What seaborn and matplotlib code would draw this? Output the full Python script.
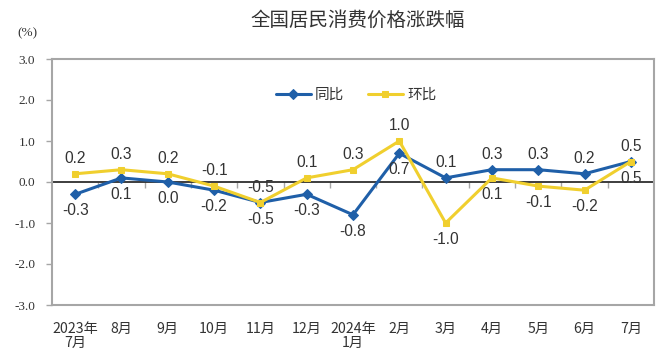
import matplotlib
matplotlib.use("Agg")
import matplotlib.pyplot as plt
import seaborn as sns
import numpy as np
import pandas as pd

categories = ["2023年\n7月", "8月", "9月", "10月", "11月", "12月", "2024年\n1月",
              "2月", "3月", "4月", "5月", "6月", "7月"]
yoy = [-0.3, 0.1, 0.0, -0.2, -0.5, -0.3, -0.8, 0.7, 0.1, 0.3, 0.3, 0.2, 0.5]   # 同比
mom = [0.2, 0.3, 0.2, -0.1, -0.5, 0.1, 0.3, 1.0, -1.0, 0.1, -0.1, -0.2, 0.5]   # 环比
yoy_label_above = [False] * 8 + [True] * 5
mom_label_above = [True] * 8 + [False] * 5
yticks = [3.0, 2.0, 1.0, 0.0, -1.0, -2.0, -3.0]

sns.set_theme(style="white")
plt.rcParams['font.family'] = ['Noto Sans CJK SC', 'DejaVu Sans']

BLUE = "#1F5FA8"
YELLOW = "#F0CF2E"
GRAY = "#A6A6A6"

fig = plt.figure(figsize=(6.68, 3.53), dpi=100)
ax = fig.add_axes([52/668, 48/353, 602/668, 246/353])

idx = np.arange(len(categories))
df = pd.DataFrame({"x": np.concatenate([idx, idx]),
                   "v": yoy + mom,
                   "s": ["同比"] * len(idx) + ["环比"] * len(idx)})

sns.lineplot(data=df[df.s == "同比"], x="x", y="v", ax=ax, color=BLUE, lw=2.2,
             marker="D", markersize=5, markeredgecolor=BLUE, label="同比", zorder=3)
sns.lineplot(data=df[df.s == "环比"], x="x", y="v", ax=ax, color=YELLOW, lw=2.2,
             marker="s", markersize=5, markeredgecolor=YELLOW, label="环比", zorder=4)

for i, (a, b) in enumerate(zip(yoy, mom)):
    ax.annotate(f"{a:.1f}", (i, a), xytext=(0, 11 if yoy_label_above[i] else -12),
                textcoords="offset points", ha="center", va="center",
                fontsize=11.2, color="#333333", family="Liberation Sans")
    ax.annotate(f"{b:.1f}", (i, b), xytext=(0, 11 if mom_label_above[i] else -12),
                textcoords="offset points", ha="center", va="center",
                fontsize=11.2, color="#333333", family="Liberation Sans")

ax.set_xlim(-0.5, len(categories) - 0.5)
ax.set_ylim(-3, 3)
ax.set_yticks(yticks)
ax.set_yticklabels([f"{t:.1f}" for t in yticks], family="Liberation Serif",
                   fontsize=9.5, color="#333333")
ax.set_xticks(idx)
ax.set_xticklabels(categories, fontsize=10.2, color="#333333", linespacing=1.05)
ax.tick_params(axis="x", length=0, pad=12)
ax.tick_params(axis="y", length=4, width=1, color=GRAY, left=True, pad=8)
ax.set_xlabel("")
ax.set_ylabel("")
for sp in ax.spines.values():
    sp.set_color(GRAY)
    sp.set_linewidth(1.5)

# horizontal category axis crossing at zero
sec = ax.secondary_xaxis(0.5)
sec.set_xticks(np.arange(-0.5, len(categories), 1.0)[1:-1])
sec.set_xticklabels([])
sec.tick_params(direction="in", length=4, width=1, color=GRAY)
sec.spines["bottom"].set_color(GRAY)
sec.spines["bottom"].set_linewidth(1.3)

leg = ax.legend(loc="center", bbox_to_anchor=(0.505, 0.854), ncol=2, frameon=False,
                handlelength=2.4, columnspacing=1.6, handletextpad=0.3,
                prop={"size": 10.5})
for t in leg.get_texts():
    t.set_color("#333333")

fig.text(358/668, 1 - 20/353, "全国居民消费价格涨跌幅", ha="center", va="center",
         fontsize=14, color="#333333")
fig.text(17/668, 1 - 33/353, "(%)", ha="left", va="center", fontsize=9.5,
         family="Liberation Serif", color="#333333")

fig.savefig("out.png", dpi=100)
